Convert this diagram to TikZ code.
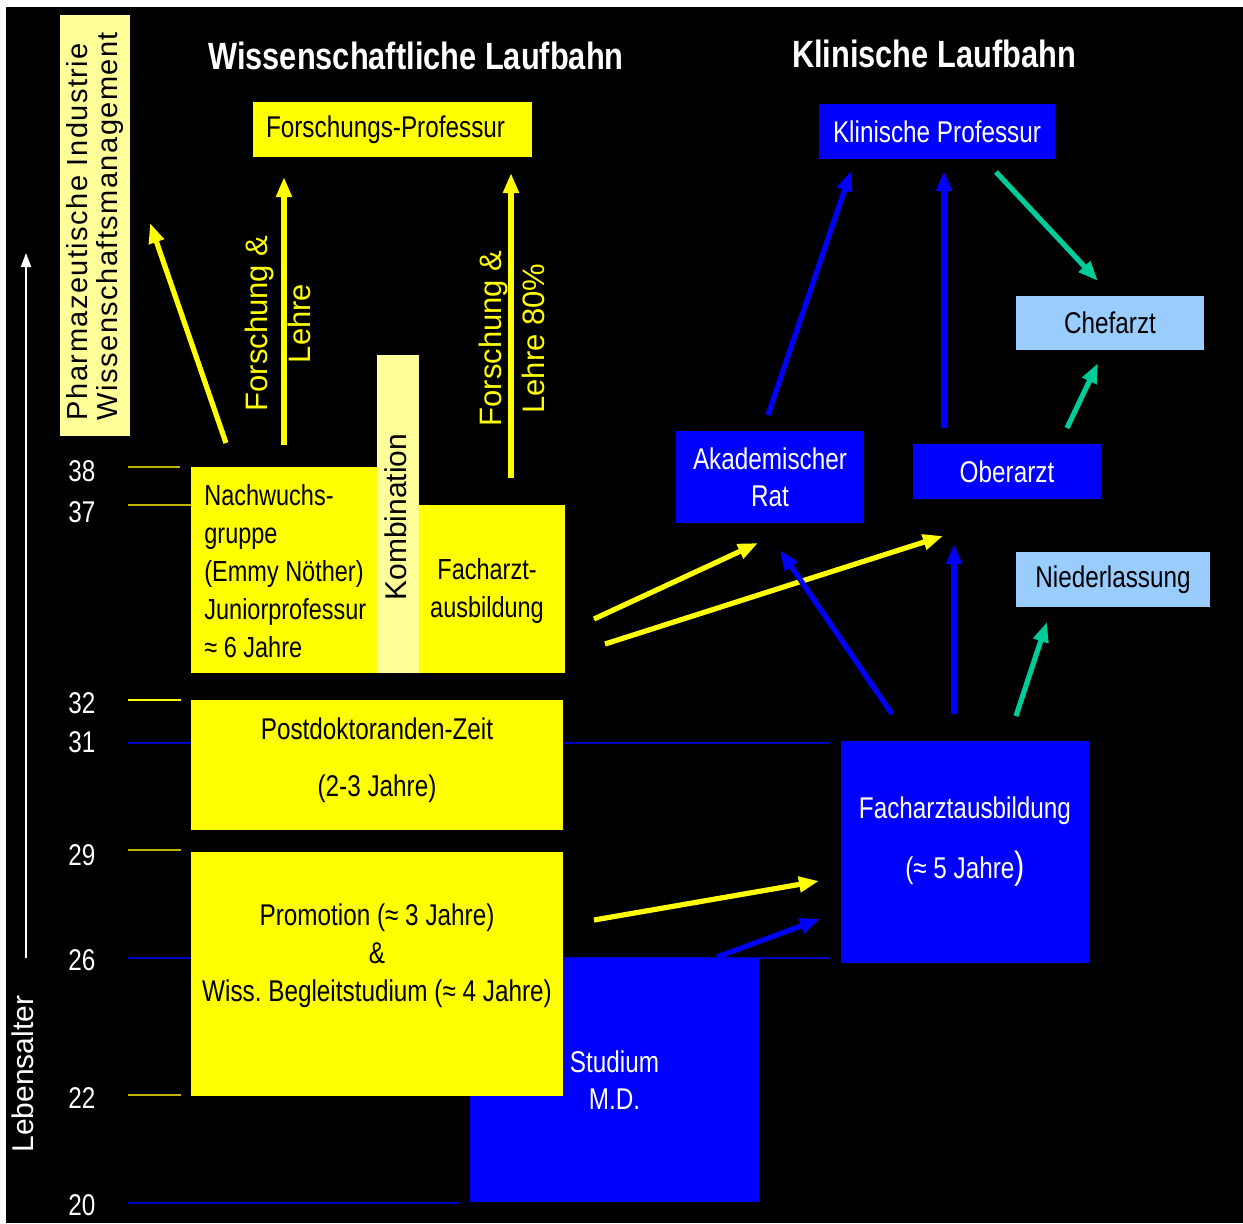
\documentclass[tikz,border=0pt]{standalone}
\usepackage{fontspec}
\setmainfont{Liberation Sans}[FakeStretch=0.81]
\newfontfamily\widefont{Liberation Sans}
\newfontfamily\spacedfont{Liberation Sans}[LetterSpace=5]
\usetikzlibrary{arrows.meta}

\definecolor{boxyellow}{RGB}{255,255,0}
\definecolor{paleyellow}{RGB}{255,255,153}
\definecolor{boxblue}{RGB}{0,0,255}
\definecolor{lightblue}{RGB}{153,204,255}
\definecolor{arrowgreen}{RGB}{0,204,153}
\definecolor{tickolive}{RGB}{190,180,0}
\definecolor{tickblue}{RGB}{0,0,200}

\begin{document}
\frenchspacing
\begin{tikzpicture}[x=0.5pt, y=-0.5pt,
    title/.style={text=white, font=\bfseries\fontsize{19}{19}\selectfont, inner sep=0pt},
    ybox/.style={fill=boxyellow, text=black, inner sep=0pt, align=center,
        font=\fontsize{15}{19}\selectfont},
    bbox/.style={fill=boxblue, text=white, inner sep=0pt, align=center,
        font=\fontsize{15}{18.5}\selectfont},
    lbbox/.style={fill=lightblue, text=black, inner sep=0pt, align=center,
        font=\fontsize{15}{19}\selectfont},
    boxtext/.style={inner sep=0pt, align=center, font=\fontsize{15}{19}\selectfont},
    vtext/.style={rotate=90, inner sep=0pt, align=center,
        font=\widefont\fontsize{15}{15}\selectfont},
    agelabel/.style={text=white, inner sep=0pt, font=\fontsize{15}{15}\selectfont},
    tick/.style={line width=1.2pt},
    arr/.style={line width=2.6pt, -{Triangle[length=10pt, width=7.5pt]}},
    yarrow/.style={arr, draw=boxyellow},
    barrow/.style={arr, draw=boxblue},
    garrow/.style={arr, draw=arrowgreen},
]

% Hintergrund
\fill[white] (0,0) rectangle (1243,1223);
\fill[black] (6,7) rectangle (1243,1223);
\useasboundingbox (0,0) rectangle (1243,1223);

% Titel
\node[title] (wisstitle) at (416,56) {Wissenschaftliche Laufbahn};
\node[title] (klintitle) at (934,54) {Klinische Laufbahn};

% Lebensalter-Achse
\coordinate (axisbot) at (26,958);
\coordinate (axistop) at (26,253);
\draw[white, line width=1pt, -{Triangle[length=7pt, width=5pt]}] (axisbot) -- (axistop);
\node[vtext, text=white] (lebensalter) at (22.5,1074) {Lebensalter};

% Altersstriche
\draw[tick, tickolive] (128,467) -- (180,467);
\draw[tick, tickolive] (128,505) -- (191,505);
\draw[tick, boxyellow] (128,700) -- (181,700);
\draw[tick, tickblue]  (128,743) -- (830,743);
\draw[tick, tickolive] (128,850) -- (181,850);
\draw[tick, tickblue]  (128,958) -- (830,958);
\draw[tick, tickolive] (128,1095) -- (181,1095);
\draw[tick, tickblue]  (128,1203) -- (460,1203);

\foreach \age/\ypos in {38/471, 37/512, 32/703, 31/742, 29/855, 26/960, 22/1098, 20/1205}
    \node[agelabel] (age\age) at (82,\ypos) {\age};

%% Wissenschaftliche Laufbahn
\node[fill=paleyellow, text=black, rotate=90, align=left, text width=194.5pt,
    inner xsep=8pt, inner ysep=0pt, minimum height=35pt,
    font=\spacedfont\fontsize{14.5}{15}\selectfont] (pharma) at (95,225.5)
    {Pharmazeutische Industrie\\Wissenschaftsmanagement};

\node[ybox, align=left, text width=126.5pt, inner xsep=6.5pt,
    minimum height=27.5pt] (forschprof) at (392.5,129.5) {Forschungs-Professur};

\node[ybox, minimum width=186pt, minimum height=65pt] (postdoc) at (377,765) {};
\node[boxtext] (postdoctxt) at (377,760) {Postdoktoranden-Zeit\\[9.5pt](2-3 Jahre)};

\node[ybox, minimum width=93.5pt, minimum height=103pt] (nachwuchs) at (284.5,570) {};
\node[boxtext, align=left, anchor=west, font=\fontsize{14.5}{19}\selectfont]
    (nachwuchstxt) at (204,571.5)
    {Nachwuchs-\\gruppe\\(Emmy Nöther)\\Juniorprofessur\\≈ 6 Jahre};
\node[ybox, minimum width=73pt, minimum height=84pt] (fachaus) at (492,589) {};
\node[boxtext, font=\fontsize{14.5}{19}\selectfont] (fachaustxt) at (487,591)
    {Facharzt-\\ausbildung};
\node[fill=paleyellow, minimum width=21pt, minimum height=159pt, inner sep=0pt]
    (kombi) at (398,514) {};
\node[vtext, text=black] (kombitxt) at (396,517) {Kombination};

\node[vtext, text=boxyellow, font=\widefont\fontsize{15.5}{21.5}\selectfont]
    (fl1) at (278,323.5) {Forschung \&\\Lehre};
\node[vtext, text=boxyellow, font=\widefont\fontsize{15.5}{21.5}\selectfont]
    (fl2) at (511.5,338.5) {Forschung \&\\Lehre 80\%};

%% Klinische Laufbahn
\node[bbox, minimum width=144.5pt, minimum height=122pt] (studium) at (614.5,1080)
    {Studium\\M.D.};
\node[ybox, minimum width=186pt, minimum height=122pt] (promo) at (377,974) {};
\node[boxtext] (promotxt) at (377,956)
    {Promotion (≈ 3 Jahre)\\\&\\Wiss. Begleitstudium (≈ 4 Jahre)};

\node[bbox, minimum width=124pt, minimum height=111pt] (facharzt) at (965,852) {};
\node[boxtext, text=white] (facharzttxt) at (965,842)
    {Facharztausbildung\\[11pt](≈ 5 Jahre{\fontsize{19}{19}\selectfont)}};

\node[bbox, minimum width=94pt, minimum height=46pt] (akad) at (770,477)
    {Akademischer\\Rat};
\node[bbox, minimum width=94pt, minimum height=27.5pt] (oberarzt) at (1007,471.5)
    {Oberarzt};
\node[lbbox, minimum width=97pt, minimum height=27.5pt] (niederl) at (1113,579.5)
    {Niederlassung};
\node[lbbox, minimum width=94pt, minimum height=27pt] (chefarzt) at (1110,322.5)
    {Chefarzt};
\node[bbox, minimum width=118pt, minimum height=27.5pt] (klinprof) at (937,131.5)
    {Klinische Professur};

% Pfeilenden
\coordinate (pharmaS) at (226,443);   \coordinate (pharmaE) at (150,223);
\coordinate (fl1S) at (284,445);      \coordinate (fl1E) at (284,177);
\coordinate (fl2S) at (511,478);      \coordinate (fl2E) at (511,173);
\coordinate (akadYS) at (594,619);    \coordinate (akadYE) at (758,543);
\coordinate (oberYS) at (605,644);    \coordinate (oberYE) at (943,536);
\coordinate (promoS) at (594,920);    \coordinate (promoE) at (819,881);
\coordinate (studS) at (717,957);     \coordinate (studE) at (820,919);
\coordinate (faAkS) at (892,714);     \coordinate (faAkE) at (780,550);
\coordinate (faObS) at (954,714);     \coordinate (faObE) at (954,544);
\coordinate (faNiS) at (1016,716);    \coordinate (faNiE) at (1047,622);
\coordinate (akKpS) at (768,415);     \coordinate (akKpE) at (851,171);
\coordinate (obKpS) at (944,428);     \coordinate (obKpE) at (944,171);
\coordinate (kpChS) at (996,172);     \coordinate (kpChE) at (1098,281);
\coordinate (obChS) at (1067,428);    \coordinate (obChE) at (1098,363);

% Pfeile
\draw[yarrow] (pharmaS) -- (pharmaE);
\draw[yarrow] (fl1S) -- (fl1E);
\draw[yarrow] (fl2S) -- (fl2E);
\draw[yarrow] (akadYS) -- (akadYE);
\draw[yarrow] (oberYS) -- (oberYE);
\draw[yarrow] (promoS) -- (promoE);
\draw[barrow] (studS) -- (studE);
\draw[barrow] (faAkS) -- (faAkE);
\draw[barrow] (faObS) -- (faObE);
\draw[garrow] (faNiS) -- (faNiE);
\draw[barrow] (akKpS) -- (akKpE);
\draw[barrow] (obKpS) -- (obKpE);
\draw[garrow] (kpChS) -- (kpChE);
\draw[garrow] (obChS) -- (obChE);
\end{tikzpicture}
\end{document}
